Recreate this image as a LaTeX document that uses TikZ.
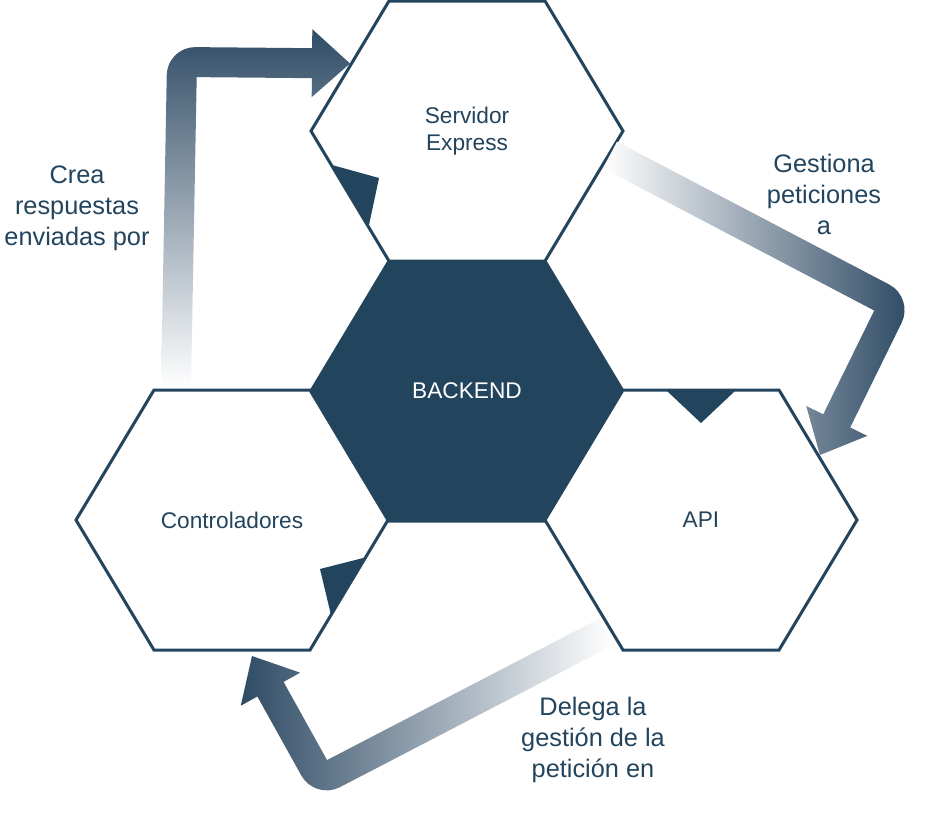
\documentclass[tikz,border=0pt]{standalone}
\usepackage{fontspec}
\setmainfont{Liberation Sans}
\usetikzlibrary{calc}

\definecolor{hexblue}{HTML}{23445D}
\definecolor{arrowdark}{HTML}{2F4B65}

\tikzset{
  hexline/.style={draw=hexblue, line width=2.25pt, line join=miter, fill=white},
  hexfull/.style={draw=hexblue, line width=2.25pt, line join=miter, fill=hexblue},
  hexlabel/.style={text=hexblue, font=\fontsize{17}{20}\selectfont, align=center},
  notelabel/.style={text=hexblue, font=\fontsize{19}{23.25}\selectfont, align=center},
  notch/.style={fill=hexblue},
}

% sizes of the fat arrows
\newcommand{\shaftw}{11.25pt}
\newcommand{\headw}{25.5pt}
\newcommand{\headl}{28.5pt}
\newcommand{\cornr}{21pt}

% hexagon round a named centre
\newcommand{\hexat}[2]{%
  \path[#2] ([shift={(-156,0)}]#1) -- ++(78,-130) -- ++(156,0) -- ++(78,130)
    -- ++(-78,130) -- ++(-156,0) -- cycle;}

% fat bent arrow: start, corner, tip, shading
\newcommand{\fatarrow}[4]{%
  \coordinate (o1) at ($(#1)!\shaftw!90:(#2)$);
  \coordinate (o2) at ($(#2)!\shaftw!-90:(#1)$);
  \coordinate (o3) at ($(#2)!\shaftw!90:(#3)$);
  \coordinate (o4) at ($(#3)!\shaftw!-90:(#2)$);
  \coordinate (i1) at ($(#1)!\shaftw!-90:(#2)$);
  \coordinate (i2) at ($(#2)!\shaftw!90:(#1)$);
  \coordinate (i3) at ($(#2)!\shaftw!-90:(#3)$);
  \coordinate (i4) at ($(#3)!\shaftw!90:(#2)$);
  \coordinate (q) at (intersection of o1--o2 and o3--o4);
  \coordinate (in) at (intersection of i1--i2 and i3--i4);
  \coordinate (e1) at ($(q)!\cornr!(o1)$);
  \coordinate (e2) at ($(q)!\cornr!(o4)$);
  \coordinate (h) at ($(#3)!\headl!(#2)$);
  \coordinate (hs1) at ($(h)!\shaftw!90:(#3)$);
  \coordinate (hw1) at ($(h)!\headw!90:(#3)$);
  \coordinate (hs2) at ($(h)!\shaftw!-90:(#3)$);
  \coordinate (hw2) at ($(h)!\headw!-90:(#3)$);
  \shade[#4] (o1) -- (e1) .. controls ($(e1)!0.55!(q)$) and ($(e2)!0.55!(q)$) .. (e2)
    -- (hs1) -- (hw1) -- (#3) -- (hw2) -- (hs2) -- (in) -- (i1) -- cycle;}

\begin{document}
\begin{tikzpicture}[x=0.75pt, y=-0.75pt]
    \useasboundingbox (0,0) rectangle (936,815);

    % Centres of the hexagons
    \coordinate (hsrv) at (467,131);
    \coordinate (hback) at (467,391);
    \coordinate (hapi) at (701,520);
    \coordinate (hctrl) at (232,520);

    % Draw the hexagons
    \hexat{hback}{hexfull}
    \hexat{hsrv}{hexline}
    \hexat{hapi}{hexline}
    \hexat{hctrl}{hexline}

    % Small notches on the edges
    \fill[notch] (332,165) -- (379,178) -- (369,225) -- cycle;
    \fill[notch] (667,391) -- (735,391) -- (701,423) -- cycle;
    \fill[notch] (320,569) -- (367,557) -- (331,615) -- cycle;

    % Ends of the fat arrows
    \coordinate (a1s) at (176,387);
    \coordinate (a1c) at (182,62);
    \coordinate (a1t) at (350,63.5);
    \coordinate (a2s) at (610,155);
    \coordinate (a2c) at (894,304);
    \coordinate (a2t) at (820,455);
    \coordinate (a3s) at (606,632);
    \coordinate (a3c) at (321,780);
    \coordinate (a3t) at (252,656);

    % Draw the fat arrows
    \fatarrow{a1s}{a1c}{a1t}{top color=arrowdark, bottom color=white}
    \fatarrow{a2s}{a2c}{a2t}{left color=white, right color=arrowdark}
    \fatarrow{a3s}{a3c}{a3t}{left color=arrowdark, right color=white}

    % Label the hexagons
    \node[hexlabel] (srv) at (hsrv) {Servidor\\Express};
    \node[hexlabel, text=white] (back) at (hback) {BACKEND};
    \node[hexlabel] (api) at (hapi) {API};
    \node[hexlabel] (ctrl) at (hctrl) {Controladores};

    % Label the arrows
    \node[notelabel] (crea) at (77,208) {Crea\\respuestas\\enviadas por};
    \node[notelabel] (gest) at (824,194) {Gestiona\\peticiones\\a};
    \node[notelabel] (deleg) at (593,740) {Delega la\\gestión de la\\petición en};
\end{tikzpicture}
\end{document}
